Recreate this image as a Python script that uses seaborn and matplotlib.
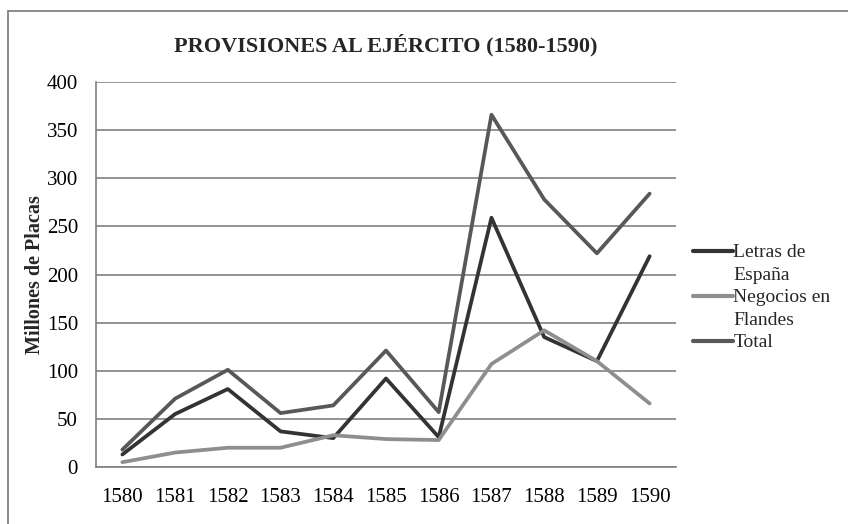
import matplotlib.pyplot as plt
import matplotlib.lines as mlines
import pandas as pd
import seaborn as sns

# data
years = ["1580", "1581", "1582", "1583", "1584", "1585", "1586", "1587", "1588", "1589", "1590"]
letras = [13, 55, 81, 37, 30, 92, 31, 259, 135, 110, 219]
negocios = [5, 15, 20, 20, 33, 29, 28, 107, 142, 110, 66]
total = [18, 71, 101, 56, 64, 121, 57, 366, 278, 222, 284]

series_names = ["Letras de España", "Negocios en Flandes", "Total"]
colors = ["#333333", "#8e8e8e", "#585858"]

df = pd.DataFrame({
    "Año": years * 3,
    "Valor": letras + negocios + total,
    "Serie": [series_names[0]] * 11 + [series_names[1]] * 11 + [series_names[2]] * 11,
})

sns.set_style("white")
plt.rcParams['font.family'] = ['Liberation Serif', 'DejaVu Serif']

fig = plt.figure(figsize=(8.48, 5.24), dpi=100)
ax = fig.add_axes([96 / 848, 1 - 467 / 524, 580 / 848, 385 / 524])

sns.lineplot(data=df, x="Año", y="Valor", hue="Serie", palette=colors,
             linewidth=2.7, ax=ax, sort=False)

ax.set_ylim(0, 400)
ax.set_xlim(-0.5, 10.5)
ax.set_yticks(range(0, 401, 50))
ax.yaxis.grid(True, color="#808080", linewidth=1.2)
ax.set_axisbelow(True)
for side in ["top", "right"]:
    ax.spines[side].set_visible(False)
for side in ["left", "bottom"]:
    ax.spines[side].set_color("#808080")
    ax.spines[side].set_linewidth(1.2)
ax.tick_params(axis="both", labelsize=15, length=0, colors="black")
ax.tick_params(axis="x", pad=15)
ax.tick_params(axis="y", pad=13)
ax.set_xlabel("")
ax.set_ylabel("Millones de Placas", fontsize=14.5, fontweight="bold", labelpad=1)

ax.set_title("PROVISIONES AL EJÉRCITO (1580-1590)", fontsize=16,
             fontweight="bold", pad=22)

# legend: long names wrap onto a second row like the original
handles, labels = ax.get_legend_handles_labels()
ax.get_legend().remove()
blank = mlines.Line2D([], [], color="none")
leg_handles = [handles[0], blank, handles[1], blank, handles[2]]
leg_labels = ["Letras de", "España", "Negocios en", "Flandes", "Total"]
leg = ax.legend(leg_handles, leg_labels, loc="center left",
                bbox_to_anchor=(0.995, 0.44), frameon=False,
                fontsize=14, handlelength=2.1, handletextpad=0.0,
                labelspacing=0.25, borderaxespad=0.6)
for line in leg.get_lines():
    line.set_linewidth(3)

# outer frame (left and top edges visible)
fig.add_artist(mlines.Line2D([8 / 848, 8 / 848], [0, 1 - 11 / 524],
                             color="#777777", linewidth=1.2, transform=fig.transFigure))
fig.add_artist(mlines.Line2D([8 / 848, 1], [1 - 11 / 524, 1 - 11 / 524],
                             color="#777777", linewidth=1.2, transform=fig.transFigure))

fig.savefig("out.png", dpi=100)
